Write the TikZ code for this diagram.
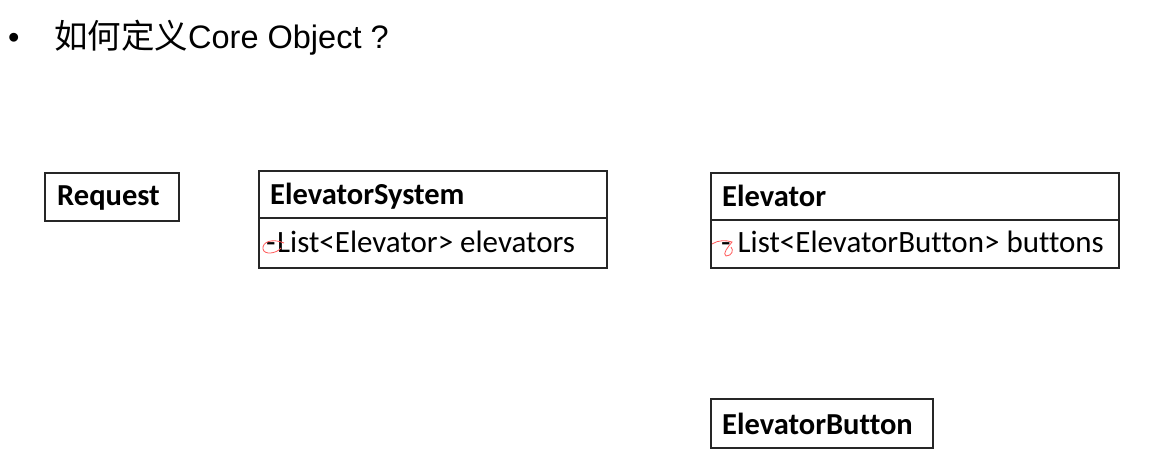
\documentclass[tikz,border=0pt]{standalone}
\usepackage{fontspec}
\setmainfont[Ligatures={NoCommon}]{Carlito}
\newfontfamily\arialf{Liberation Sans}
\newfontfamily\cjkf{Noto Sans CJK SC}
\begin{document}
\begin{tikzpicture}[x=1pt,y=-1pt,
  box/.style={draw=black!85, line width=1.8pt, inner sep=0pt, anchor=north west},
  lbl/.style={inner sep=0pt, anchor=base west, font=\fontsize{31}{36}\selectfont},
  hdr/.style={inner sep=0pt, anchor=base west, font=\fontsize{30.5}{36}\selectfont\bfseries},
  ttl/.style={inner sep=0pt, anchor=base west, font=\fontsize{32.5}{38}\selectfont},
  divider/.style={draw=black!85, line width=1.6pt},
  redmark/.style={draw=red!65, line width=0.8pt}]
\useasboundingbox[fill=white] (0,0) rectangle (1154,465);
% title
\node[ttl] (bullet) at (8,49) {\arialf •};
\node[ttl] (title) at (54,49) {{\cjkf\fontsize{33.5}{38}\selectfont 如何定义}{\arialf Core Object ?}};
% Request
\node[box, minimum width=134pt, minimum height=48pt] (req) at (44,172) {};
\node[hdr] (reqt) at (57,206) {Request};
% ElevatorSystem
\node[box, minimum width=348pt, minimum height=97pt] (sys) at (258,170) {};
\coordinate (sysdl) at (258,218);
\coordinate (sysdr) at (606,218);
\draw[divider] (sysdl) -- (sysdr);
\node[hdr] (syst) at (270,205) {ElevatorSystem};
\node[lbl] (sysr) at (266,253) {-\kern1.5pt List<Elevator> elevators};
% Elevator
\node[box, minimum width=408pt, minimum height=95pt] (elv) at (710,172) {};
\coordinate (elvdl) at (710,220);
\coordinate (elvdr) at (1118,220);
\draw[divider] (elvdl) -- (elvdr);
\node[hdr] (elvt) at (722,207) {Elevator};
\node[lbl] (elvr) at (721,253) {- List<ElevatorButton> buttons};
% ElevatorButton
\node[box, minimum width=222pt, minimum height=49pt] (btn) at (710,398) {};
\node[hdr] (btnt) at (722,434) {ElevatorButton};
% red annotation marks
\draw[redmark] (284,243) .. controls (272,238) and (262,242) .. (263,249) .. controls (264,255) and (276,254) .. (281,248);
\draw[redmark] (712,244) .. controls (718,240) and (726,240) .. (732,242) .. controls (728,247) and (722,254) .. (726,256) .. controls (732,256) and (734,250) .. (731,247);
\end{tikzpicture}
\end{document}
